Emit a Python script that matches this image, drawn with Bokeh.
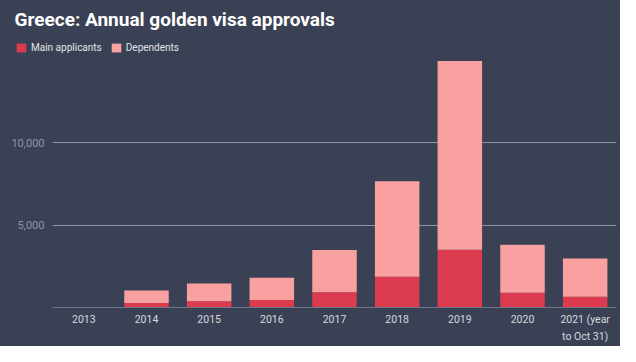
from bokeh.plotting import figure
from bokeh.layouts import column
from bokeh.models import (ColumnDataSource, FactorRange, Range1d, FixedTicker,
                          NumeralTickFormatter, Legend, LegendItem, Label)
from bokeh.embed import file_html
from bokeh.resources import INLINE

years = ["2013", "2014", "2015", "2016", "2017", "2018", "2019", "2020", "2021 (year\nto Oct 31)"]
main_applicants = [0, 280, 380, 455, 920, 1870, 3510, 900, 660]
dependents = [0, 760, 1080, 1345, 2580, 5800, 11470, 2910, 2310]
y_ticks = [5000, 10000]
series = ["Main applicants", "Dependents"]
colors = ["#dc3a4e", "#f9a1a1"]
title_text = "Greece: Annual golden visa approvals"

BG = "#3b4155"
FRAME_LEFT = 52


def style(fig):
    fig.outline_line_color = None
    fig.styles = {"background-color": BG}


# ---- header: title + legend ----
hdr = figure(width=620, height=54, output_backend="svg", toolbar_location=None,
             x_range=Range1d(0, 1), y_range=Range1d(0, 1),
             x_axis_location=None, y_axis_location=None,
             min_border=0, min_border_left=0, min_border_right=0,
             min_border_top=0, min_border_bottom=0,
             background_fill_color=BG, border_fill_color=BG)
style(hdr)
hdr.grid.visible = False

if "frame_align" in hdr.properties():
    hdr.frame_align = False
    xoff = 0
else:
    xoff = -FRAME_LEFT

dummy = ColumnDataSource(dict(x=[-5.0], top=[0.0]))
dr = [hdr.vbar(x="x", top="top", width=0.01, source=dummy, color=c, line_color=None)
      for c in colors]
hdr.add_layout(Label(x=14 + xoff, y=35, x_units="screen", y_units="screen", text=title_text,
                     text_font="Roboto", text_font_style="bold", text_font_size="19px",
                     text_color="#ffffff", text_baseline="alphabetic"))
legend = Legend(items=[LegendItem(label=s, renderers=[r]) for s, r in zip(series, dr)],
                orientation="horizontal", location=(15 + xoff, 1),
                background_fill_alpha=0, border_line_color=None,
                label_text_color="#e2e3e8", label_text_font="Roboto",
                label_text_font_size="10px", glyph_width=12, glyph_height=11,
                label_standoff=4, spacing=8, padding=0, margin=0, label_height=11)
hdr.add_layout(legend)

# ---- main chart ----
src = ColumnDataSource(dict(year=years, **{"Main applicants": main_applicants,
                                            "Dependents": dependents}))

p = figure(width=620, height=292, output_backend="svg", toolbar_location=None,
           x_range=FactorRange(*years, range_padding=0),
           y_range=Range1d(0, 15185),
           min_border_left=FRAME_LEFT, min_border_right=4, min_border_top=3,
           min_border_bottom=36,
           background_fill_color=BG, border_fill_color=BG)
style(p)

p.vbar_stack(series, x="year", width=0.71, source=src, color=colors, line_color=None)

p.xgrid.grid_line_color = None
p.ygrid.ticker = FixedTicker(ticks=y_ticks)
p.ygrid.grid_line_color = "#8d94a8"
p.ygrid.grid_line_width = 1

p.yaxis.ticker = FixedTicker(ticks=y_ticks)
p.yaxis.formatter = NumeralTickFormatter(format="0,0")
p.yaxis.axis_line_color = None
p.yaxis.major_tick_line_color = None
p.yaxis.minor_tick_line_color = None
p.yaxis.major_tick_out = 0
p.yaxis.major_tick_in = 0
p.yaxis.major_label_text_color = "#8e94a6"
p.yaxis.major_label_text_font = "Roboto"
p.yaxis.major_label_text_font_size = "11px"
p.yaxis.major_label_standoff = 8

p.xaxis.axis_line_color = "#6f768a"
p.xaxis.major_tick_line_color = None
p.xaxis.minor_tick_line_color = None
p.xaxis.major_tick_out = 0
p.xaxis.major_tick_in = 0
p.xaxis.major_label_text_color = "#d6d8df"
p.xaxis.major_label_text_font = "Roboto"
p.xaxis.major_label_text_font_size = "10.5px"
p.xaxis.major_label_text_line_height = 1.35
p.xaxis.major_label_standoff = 5

layout = column(hdr, p, spacing=0, styles={"background-color": BG})
open("out.html", "w").write(file_html(layout, INLINE))
